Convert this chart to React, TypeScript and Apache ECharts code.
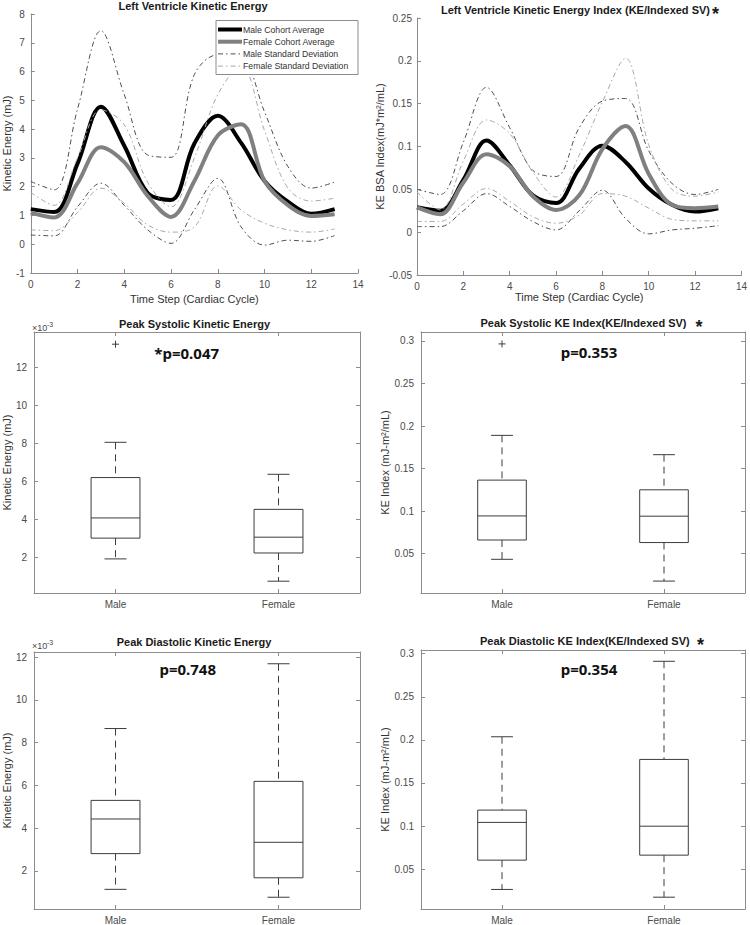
import React, { useEffect, useRef } from "react";
import * as echarts from "echarts";

// ---------- DATA ----------
const timeSteps = [0, 1, 2, 3, 4, 5, 6, 7, 8, 9, 10, 11, 12, 13];

// Left Ventricle Kinetic Energy (mJ)
const keMaleAvg = [1.22, 1.12, 2.8, 4.78, 3.42, 1.78, 1.54, 3.5, 4.46, 3.52, 2.2, 1.48, 1.06, 1.22];
const keFemaleAvg = [1.1, 0.93, 2.12, 3.37, 2.85, 1.68, 0.95, 2.2, 3.78, 4.17, 2.2, 1.36, 0.98, 1.04];
const keMaleSDUpper = [2.18, 1.89, 4.7, 7.42, 5.2, 3.1, 3.02, 5.9, 6.58, 6.5, 4.6, 2.7, 1.95, 2.16];
const keMaleSDLower = [0.32, 0.29, 1.3, 2.12, 1.35, 0.5, 0.03, 1.2, 2.29, 0.6, -0.03, 0.14, 0.1, 0.3];
const keFemaleSDUpper = [1.8, 1.35, 3.0, 4.67, 4.15, 2.15, 1.3, 3.0, 5.2, 6.2, 3.95, 1.95, 1.5, 1.6];
const keFemaleSDLower = [0.5, 0.47, 1.1, 1.95, 1.42, 0.67, 0.42, 0.6, 2.03, 1.19, 0.73, 0.5, 0.42, 0.53];

// Left Ventricle Kinetic Energy Index
const kiMaleAvg = [0.029, 0.025, 0.061, 0.107, 0.078, 0.043, 0.034, 0.074, 0.101, 0.082, 0.051, 0.032, 0.024, 0.028];
const kiFemaleAvg = [0.029, 0.021, 0.058, 0.091, 0.077, 0.042, 0.026, 0.043, 0.097, 0.124, 0.068, 0.032, 0.028, 0.03];
const kiMaleSDUpper = [0.05, 0.044, 0.105, 0.169, 0.122, 0.072, 0.065, 0.122, 0.153, 0.156, 0.095, 0.057, 0.044, 0.05];
const kiMaleSDLower = [0.0065, 0.0065, 0.025, 0.045, 0.03, 0.0124, 0.0026, 0.025, 0.049, 0.016, -0.002, 0.0026, 0.0046, 0.0075];
const kiFemaleSDUpper = [0.047, 0.026, 0.083, 0.131, 0.115, 0.07, 0.041, 0.09, 0.152, 0.203, 0.102, 0.05, 0.042, 0.047];
const kiFemaleSDLower = [0.0125, 0.0125, 0.033, 0.051, 0.036, 0.018, 0.0104, 0.02, 0.045, 0.042, 0.028, 0.015, 0.0132, 0.0132];

const groups = ["Male", "Female"];
const legendNames = ["Male Cohort Average", "Female Cohort Average", "Male Standard Deviation", "Female Standard Deviation"];

// box stats: [lower whisker, Q1, median, Q3, upper whisker]
const sysKEMale = [0.00193, 0.00302, 0.00408, 0.0062, 0.00805];
const sysKEFemale = [0.00076, 0.00224, 0.00307, 0.00453, 0.00637];
const sysKEOutliers = [[0, 0.0132]];

const sysKIMale = [0.0433, 0.066, 0.0943, 0.1364, 0.189];
const sysKIFemale = [0.0177, 0.063, 0.094, 0.125, 0.1663];
const sysKIOutliers = [[0, 0.2965]];

const diaKEMale = [0.00114, 0.00281, 0.00443, 0.0053, 0.00866];
const diaKEFemale = [0.00077, 0.00168, 0.00334, 0.00619, 0.01169];

const diaKIMale = [0.0264, 0.0604, 0.1042, 0.1185, 0.2036];
const diaKIFemale = [0.0174, 0.0662, 0.0998, 0.1773, 0.2912];

const keTicks = [0.002, 0.004, 0.006, 0.008, 0.01, 0.012];
const kiTicks = [0.05, 0.1, 0.15, 0.2, 0.25, 0.3];

// ---------- STYLE ----------
const FONT = '"Liberation Sans", Arial, sans-serif';
const AXIS = "#8c8c8c";
const LABEL = "#4a4a4a";
const BOXC = "#3c3c3c";
const DASHDOT = [5, 3, 1.5, 3];
const MALE_AVG = "#000000";
const FEMALE_AVG = "#808080";
const MALE_SD = "#505050";
const FEMALE_SD = "#a8a8a8";

const pairs = (ys: number[]) => timeSteps.map((t, i) => [t, ys[i]]);

function lineSeries(name: string, ys: number[], axis: number, color: string, width: number, dash?: number[]) {
  return {
    type: "line",
    name,
    xAxisIndex: axis,
    yAxisIndex: axis,
    data: pairs(ys),
    symbol: "none",
    smooth: 0.35,
    lineStyle: { color, width, type: dash ? dash : "solid" },
    itemStyle: { color },
    z: 2,
  };
}

function boxRender(params: any, api: any) {
  const idx = api.value(0);
  const low = api.coord([idx, api.value(1)]);
  const q1 = api.coord([idx, api.value(2)]);
  const med = api.coord([idx, api.value(3)]);
  const q3 = api.coord([idx, api.value(4)]);
  const high = api.coord([idx, api.value(5)]);
  const band = api.size([1, 0])[0];
  const bw = band * 0.3;
  const cw = bw * 0.45;
  const cx = med[0];
  const solid = { stroke: BOXC, lineWidth: 1, fill: "none" };
  const dashed = { stroke: BOXC, lineWidth: 1, lineDash: [7, 5] };
  return {
    type: "group",
    children: [
      { type: "line", shape: { x1: cx, y1: high[1], x2: cx, y2: q3[1] }, style: dashed },
      { type: "line", shape: { x1: cx, y1: q1[1], x2: cx, y2: low[1] }, style: dashed },
      { type: "line", shape: { x1: cx - cw / 2, y1: high[1], x2: cx + cw / 2, y2: high[1] }, style: solid },
      { type: "line", shape: { x1: cx - cw / 2, y1: low[1], x2: cx + cw / 2, y2: low[1] }, style: solid },
      { type: "rect", shape: { x: cx - bw / 2, y: q3[1], width: bw, height: q1[1] - q3[1] }, style: solid },
      { type: "line", shape: { x1: cx - bw / 2, y1: med[1], x2: cx + bw / 2, y2: med[1] }, style: solid },
    ],
  };
}

function outlierRender(params: any, api: any) {
  const p = api.coord([api.value(0), api.value(1)]);
  const s = 3.5;
  const st = { stroke: BOXC, lineWidth: 1 };
  return {
    type: "group",
    children: [
      { type: "line", shape: { x1: p[0] - s, y1: p[1], x2: p[0] + s, y2: p[1] }, style: st },
      { type: "line", shape: { x1: p[0], y1: p[1] - s, x2: p[0], y2: p[1] + s }, style: st },
    ],
  };
}

const boxRow = (g: number, s: number[]) => [g, ...s];

export default function App() {
  const ref = useRef<HTMLDivElement>(null);
  useEffect(() => {
    if (!ref.current) return;
    const chart = echarts.init(ref.current, undefined, { renderer: "svg" });

    const tickStyle = { show: true, inside: true, length: 4, lineStyle: { color: AXIS } };
    const lineAxisCommon = {
      axisLine: { show: true, onZero: false, lineStyle: { color: AXIS, width: 1 } },
      axisTick: tickStyle,
      splitLine: { show: false },
      axisLabel: { color: LABEL, fontSize: 10, fontFamily: FONT, margin: 6 },
      nameTextStyle: { color: "#333", fontSize: 11, fontFamily: FONT },
      nameLocation: "middle",
    };

    const grids = [
      { left: 29, top: 14, width: 329, height: 259 },
      { left: 417, top: 18, width: 325, height: 257 },
      { left: 32, top: 332, width: 328, height: 261 },
      { left: 421, top: 332, width: 324, height: 261 },
      { left: 31, top: 652, width: 329, height: 259 },
      { left: 421, top: 650, width: 324, height: 259 },
    ];

    const xAxes: any[] = [
      { ...lineAxisCommon, type: "value", gridIndex: 0, min: 0, max: 14, interval: 2, name: "Time Step (Cardiac Cycle)", nameGap: 20 },
      { ...lineAxisCommon, type: "value", gridIndex: 1, min: 0, max: 14, interval: 2, name: "Time Step (Cardiac Cycle)", nameGap: 11 },
    ];
    const yAxes: any[] = [
      { ...lineAxisCommon, type: "value", gridIndex: 0, min: -1, max: 8, interval: 1, name: "Kinetic Energy (mJ)", nameGap: 18 },
      {
        ...lineAxisCommon, type: "value", gridIndex: 1, min: -0.05, max: 0.25, interval: 0.05,
        name: "KE BSA Index(mJ*m²/mL)", nameGap: 30,
        axisLabel: { ...lineAxisCommon.axisLabel, margin: 5, formatter: (v: number) => String(parseFloat(v.toFixed(3))) },
      },
    ];

    const boxDefs = [
      { grid: 2, min: 0.00014, max: 0.01384, ticks: keTicks, fmt: (v: number) => String(Math.round(v * 1000)), name: "Kinetic Energy (mJ)", gap: 20 },
      { grid: 3, min: 0.0037, max: 0.3105, ticks: kiTicks, fmt: (v: number) => String(parseFloat(v.toFixed(3))), name: "KE Index (mJ-m²/mL)", gap: 25 },
      { grid: 4, min: 0.00022, max: 0.01224, ticks: keTicks, fmt: (v: number) => String(Math.round(v * 1000)), name: "Kinetic Energy (mJ)", gap: 20 },
      { grid: 5, min: 0.0037, max: 0.3043, ticks: kiTicks, fmt: (v: number) => String(parseFloat(v.toFixed(3))), name: "KE Index (mJ-m²/mL)", gap: 25 },
    ];
    boxDefs.forEach((d) => {
      xAxes.push({
        type: "category", gridIndex: d.grid, data: groups, position: "bottom",
        axisLine: { show: true, lineStyle: { color: AXIS } },
        axisTick: { ...tickStyle, alignWithLabel: true },
        axisLabel: { color: LABEL, fontSize: 10, fontFamily: FONT, margin: 6 },
      });
      xAxes.push({
        type: "category", gridIndex: d.grid, data: groups, position: "top",
        axisLine: { show: true, lineStyle: { color: AXIS } },
        axisTick: { ...tickStyle, alignWithLabel: true },
        axisLabel: { show: false },
      });
      yAxes.push({
        type: "value", gridIndex: d.grid, min: d.min, max: d.max, position: "left",
        axisLine: { show: true, lineStyle: { color: AXIS } },
        axisTick: { ...tickStyle, customValues: d.ticks },
        axisLabel: { color: LABEL, fontSize: 10, fontFamily: FONT, margin: 7, customValues: d.ticks, formatter: d.fmt },
        splitLine: { show: false },
        name: d.name, nameLocation: "middle", nameGap: d.gap,
        nameTextStyle: { color: "#333", fontSize: 11, fontFamily: FONT },
      });
      yAxes.push({
        type: "value", gridIndex: d.grid, min: d.min, max: d.max, position: "right",
        axisLine: { show: true, lineStyle: { color: AXIS } },
        axisTick: { ...tickStyle, customValues: d.ticks },
        axisLabel: { show: false, customValues: d.ticks },
        splitLine: { show: false },
      });
    });

    const boxSeries = (axis: number, male: number[], female: number[]) => ({
      type: "custom",
      xAxisIndex: axis,
      yAxisIndex: axis,
      renderItem: boxRender,
      encode: { x: 0, y: [1, 2, 3, 4, 5] },
      data: [boxRow(0, male), boxRow(1, female)],
      z: 3,
    });
    const outSeries = (axis: number, pts: number[][]) => ({
      type: "custom",
      xAxisIndex: axis,
      yAxisIndex: axis,
      renderItem: outlierRender,
      encode: { x: 0, y: 1 },
      data: pts,
      z: 3,
    });

    const series: any[] = [
      lineSeries(legendNames[0], keMaleAvg, 0, MALE_AVG, 4),
      lineSeries(legendNames[1], keFemaleAvg, 0, FEMALE_AVG, 4),
      lineSeries(legendNames[2], keMaleSDUpper, 0, MALE_SD, 1, DASHDOT),
      lineSeries(legendNames[2], keMaleSDLower, 0, MALE_SD, 1, DASHDOT),
      lineSeries(legendNames[3], keFemaleSDUpper, 0, FEMALE_SD, 1, DASHDOT),
      lineSeries(legendNames[3], keFemaleSDLower, 0, FEMALE_SD, 1, DASHDOT),
      lineSeries(legendNames[0], kiMaleAvg, 1, MALE_AVG, 4),
      lineSeries(legendNames[1], kiFemaleAvg, 1, FEMALE_AVG, 4),
      lineSeries(legendNames[2], kiMaleSDUpper, 1, MALE_SD, 1, DASHDOT),
      lineSeries(legendNames[2], kiMaleSDLower, 1, MALE_SD, 1, DASHDOT),
      lineSeries(legendNames[3], kiFemaleSDUpper, 1, FEMALE_SD, 1, DASHDOT),
      lineSeries(legendNames[3], kiFemaleSDLower, 1, FEMALE_SD, 1, DASHDOT),
      boxSeries(2, sysKEMale, sysKEFemale),
      outSeries(2, sysKEOutliers),
      boxSeries(4, sysKIMale, sysKIFemale),
      outSeries(4, sysKIOutliers),
      boxSeries(6, diaKEMale, diaKEFemale),
      boxSeries(8, diaKIMale, diaKIFemale),
    ];

    const txt = (text: string, x: number, y: number, size: number, opts: any = {}) => ({
      type: "text",
      x,
      y,
      z: 10,
      style: {
        text,
        fontSize: size,
        fontFamily: opts.family || FONT,
        fontWeight: opts.weight || "normal",
        fill: opts.fill || "#1a1a1a",
        align: opts.align || "center",
        verticalAlign: "middle",
      },
    });

    // legend box (drawn as graphic so that the line samples show thick / dash-dot styles)
    const legX = 216, legY = 20.5, legW = 142, legH = 54;
    const rowY = [29.5, 41.7, 53.9, 66.1];
    const legendStyles = [
      { color: MALE_AVG, width: 4, dash: null },
      { color: FEMALE_AVG, width: 4, dash: null },
      { color: MALE_SD, width: 1, dash: DASHDOT },
      { color: FEMALE_SD, width: 1, dash: DASHDOT },
    ];
    const legendGraphic: any[] = [
      {
        type: "rect", z: 20,
        shape: { x: legX, y: legY, width: legW, height: legH },
        style: { fill: "#ffffff", stroke: AXIS, lineWidth: 1 },
      },
    ];
    legendNames.forEach((n, i) => {
      const s = legendStyles[i];
      legendGraphic.push({
        type: "line", z: 21,
        shape: { x1: legX + 2, y1: rowY[i], x2: legX + 26, y2: rowY[i] },
        style: { stroke: s.color, lineWidth: s.width, lineDash: s.dash || undefined },
      });
      legendGraphic.push({
        type: "text", z: 21, x: legX + 27, y: rowY[i],
        style: { text: n, fontSize: 8.7, fontFamily: FONT, fill: "#333", align: "left", verticalAlign: "middle" },
      });
    });

    const graphic: any[] = [
      txt("Left Ventricle Kinetic Energy", 193, 6, 11, { weight: "bold" }),
      txt("Left Ventricle Kinetic Energy Index (KE/Indexed SV)", 575.5, 10, 11, { weight: "bold" }),
      txt("*", 715.5, 14, 18, { weight: "bold" }),
      txt("Peak Systolic Kinetic Energy", 194.5, 324.3, 11, { weight: "bold" }),
      txt("Peak Systolic KE Index(KE/Indexed SV)", 583.5, 323.3, 11, { weight: "bold" }),
      txt("*", 699, 327, 18, { weight: "bold" }),
      txt("Peak Diastolic Kinetic Energy", 194, 642.3, 11, { weight: "bold" }),
      txt("Peak Diastolic KE Index(KE/Indexed SV)", 584.8, 640.7, 11, { weight: "bold" }),
      txt("*", 700.5, 644.5, 18, { weight: "bold" }),
      txt("*p=0.047", 186.7, 352.7, 15, { weight: "bold", family: '"Noto Sans", sans-serif', fill: "#111" }),
      txt("p=0.353", 589, 351.7, 15, { weight: "bold", family: '"Noto Sans", sans-serif', fill: "#111" }),
      txt("p=0.748", 187.7, 669, 15, { weight: "bold", family: '"Noto Sans", sans-serif', fill: "#111" }),
      txt("p=0.354", 589, 669.3, 15, { weight: "bold", family: '"Noto Sans", sans-serif', fill: "#111" }),
      txt("×10", 32, 327.5, 9, { align: "left", fill: LABEL }),
      txt("-3", 47, 324.5, 7, { align: "left", fill: LABEL }),
      txt("×10", 32, 645.5, 9, { align: "left", fill: LABEL }),
      txt("-3", 47, 642.5, 7, { align: "left", fill: LABEL }),
      ...legendGraphic,
    ];

    chart.setOption({
      animation: false,
      backgroundColor: "#ffffff",
      grid: grids,
      xAxis: xAxes,
      yAxis: yAxes,
      series,
      graphic,
    });
    return () => chart.dispose();
  }, []);
  return (
    <div
      ref={ref}
      style={{ position: "fixed", left: 0, top: 0, width: 750, height: 925, background: "#fff" }}
    />
  );
}
